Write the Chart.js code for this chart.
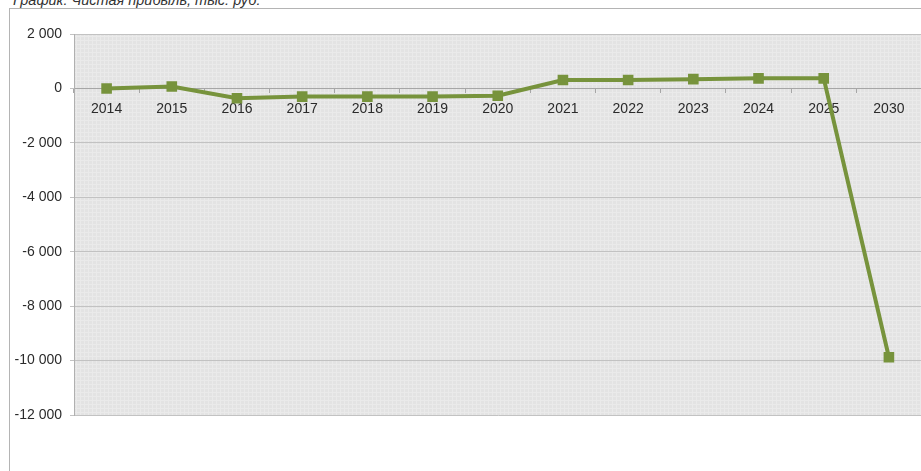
<!DOCTYPE html>
<html>
<head>
<meta charset="utf-8">
<script src="https://cdn.jsdelivr.net/npm/chart.js@4.4.1/dist/chart.umd.min.js"></script>
<style>
  html, body { margin: 0; padding: 0; background: #fff; overflow: hidden; width: 921px; height: 471px; }
  #wrap { position: relative; width: 921px; height: 471px; overflow: hidden; }
  #frame { position: absolute; left: 9px; top: 8px; width: 940px; height: 500px; border-left: 1px solid #b4b4b4; border-top: 1px solid #b4b4b4; }
  #title { position: absolute; left: 13px; top: -7px; font: italic 14.5px "Liberation Sans", Arial, sans-serif; color: #333; line-height: 14px; white-space: nowrap; }
  #chart { position: absolute; left: 0; top: 0; }
</style>
</head>
<body>
<div id="wrap">
  <div id="frame"></div>
  <div id="title">График: Чистая прибыль, тыс. руб.</div>
  <canvas id="chart" width="929" height="471"></canvas>
</div>
<script>
// data
const years = ['2014', '2015', '2016', '2017', '2018', '2019', '2020', '2021', '2022', '2023', '2024', '2025', '2030'];
const netProfit = [0, 70, -360, -300, -300, -300, -270, 310, 310, 340, 370, 370, -9880];
const yMin = -12000;
const yMax = 2000;
const yStep = 2000;

const fmt = (v) => {
  const s = String(Math.abs(v)).replace(/\B(?=(\d{3})+(?!\d))/g, ' ');
  return (v < 0 ? '-' : '') + s;
};

// textured grey plot area, like the old office charts
const plotBg = {
  id: 'plotBg',
  beforeDraw(chart) {
    const { ctx, chartArea: a } = chart;
    const tile = document.createElement('canvas');
    tile.width = 4; tile.height = 4;
    const t = tile.getContext('2d');
    t.fillStyle = '#e3e3e3';
    t.fillRect(0, 0, 4, 4);
    t.fillStyle = '#eaeaea';
    t.fillRect(0, 0, 4, 1);
    t.fillRect(0, 0, 1, 4);
    ctx.save();
    ctx.fillStyle = ctx.createPattern(tile, 'repeat');
    ctx.fillRect(a.left, a.top, a.right - a.left, a.bottom - a.top);
    ctx.restore();
  }
};

const textColor = '#2b2b2b';
const font = { family: '"Liberation Sans", Arial, sans-serif', size: 14 };

new Chart(document.getElementById('chart'), {
  type: 'line',
  data: {
    labels: years,
    datasets: [{
      data: netProfit,
      borderColor: '#77933c',
      backgroundColor: '#77933c',
      borderWidth: 4,
      tension: 0,
      pointStyle: 'rect',
      pointRadius: 7.5,
      pointHoverRadius: 7.5,
      pointBorderWidth: 0
    }]
  },
  options: {
    responsive: false,
    animation: false,
    devicePixelRatio: 1,
    layout: { padding: { top: 34, bottom: 56, left: 0, right: 0 } },
    plugins: {
      legend: { display: false },
      tooltip: { enabled: false }
    },
    scales: {
      x: {
        type: 'category',
        offset: true,
        position: { y: 0 },
        afterFit: (s) => { s.height = 0; },
        grid: { display: true, drawOnChartArea: false, offset: true, tickLength: 4, color: '#a6a6a6' },
        border: { display: true, color: '#a6a6a6', width: 1 },
        ticks: { color: textColor, font: font, padding: 8, maxRotation: 0, autoSkip: false }
      },
      y: {
        min: yMin,
        max: yMax,
        afterFit: (s) => { s.width = 74; },
        grid: { color: '#c2c2c2', tickLength: 4, lineWidth: 1 },
        border: { display: true, color: '#b0b0b0' },
        ticks: { stepSize: yStep, color: textColor, font: font, padding: 8, callback: (v) => fmt(v) }
      }
    }
  },
  plugins: [plotBg]
});
</script>
</body>
</html>
